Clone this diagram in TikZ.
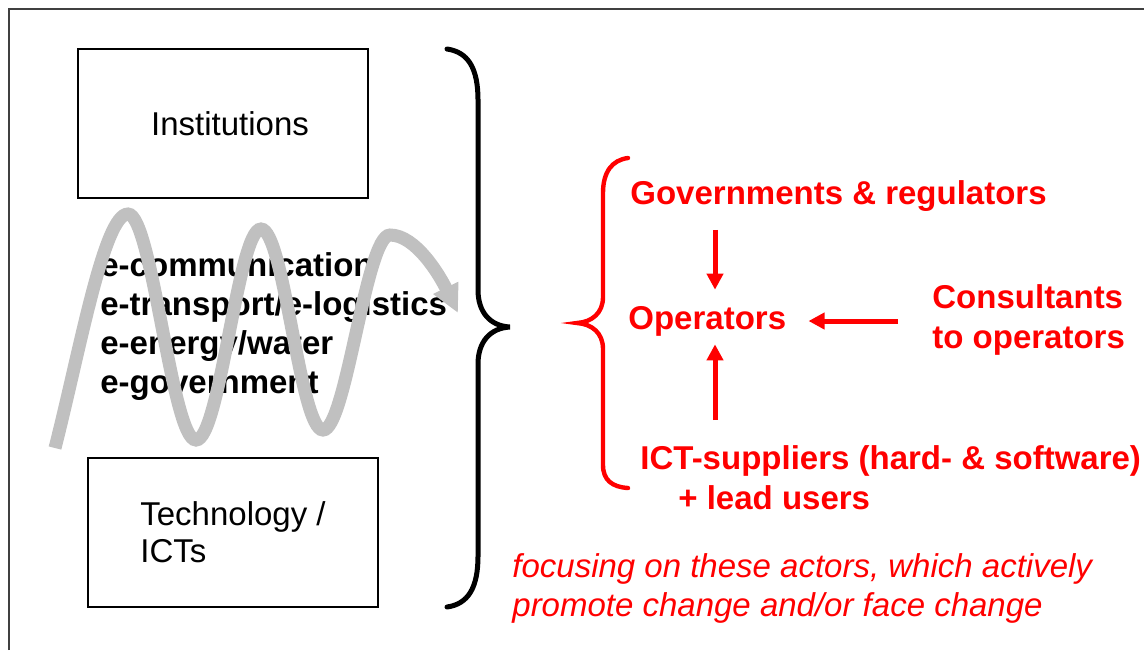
\documentclass[tikz,border=0pt]{standalone}
\usepackage{fontspec}
\setmainfont{Liberation Sans}
\usetikzlibrary{arrows.meta}

\definecolor{wavegray}{HTML}{C0C0C0}

\begin{document}
\begin{tikzpicture}[x=0.5pt, y=-0.5pt,
    blockbox/.style={draw, line width=0.7pt, minimum width=145pt, minimum height=74.5pt, font=\fontsize{16.5}{18.5}\selectfont},
    actor/.style={text=red, font=\bfseries\fontsize{16.5}{20}\selectfont, inner sep=0pt, align=left},
    redarrow/.style={draw=red, line width=2.5pt, -{Triangle[width=8pt, length=8pt]}},
    wave/.style={draw=wavegray, line width=6.5pt, -{Triangle[width=13pt, length=14pt]}},
    brace/.style={line width=2.5pt, line cap=round}]
    \useasboundingbox (0,0) rectangle (1144,650);

    % Outer frame
    \draw[line width=0.8pt, black!75] (9,650) -- (9,9) -- (1144,9);

    % Institutions and technology
    \node[blockbox] (inst) at (223,123.5) {\hspace*{7pt}Institutions};
    \node[blockbox, align=left] (tech) at (233,532.5) {Technology /\\ICTs};

    % Sectors
    \node[anchor=west, inner sep=0pt, align=left, font=\bfseries\fontsize{16.5}{19.5}\selectfont] (sectors) at (100,327)
        {e-communication\\e-transport/e-logistics\\e-energy/water\\e-government};

    % Co-evolution wave
    \draw[wave] (55,448) .. controls (80,350) and (104,214) .. (128,214)
        .. controls (152,214) and (172,440) .. (196,440)
        .. controls (220,440) and (238,229) .. (261,229)
        .. controls (284,229) and (300,430) .. (323,430)
        .. controls (346,430) and (366,235) .. (390,235)
        .. controls (416,235) and (440,276) .. (458,313);

    % Big brace
    \draw[brace] (447,49) .. controls (468,52) and (478,68) .. (478,100) -- (478,290)
        .. controls (478,312) and (490,326) .. (510,327)
        .. controls (490,328) and (478,342) .. (478,364) -- (478,556)
        .. controls (478,588) and (468,604) .. (447,607);

    % Actors
    \draw[brace, red, line width=2.2pt] (628,158) .. controls (612,160) and (603,172) .. (603,193) -- (603,297)
        .. controls (603,313) and (592,322) .. (577,323)
        .. controls (592,324) and (603,333) .. (603,349) -- (603,465)
        .. controls (603,480) and (612,487) .. (628,488);

    \node[actor, anchor=west] (gov) at (630,196) {Governments \& regulators};
    \node[actor, anchor=west] (oper) at (628,321) {Operators};
    \node[actor, anchor=west] (cons) at (932,320) {Consultants\\to operators};
    \node[actor, anchor=north west] (sup) at (640,445) {ICT-suppliers (hard- \& software)\\\hspace*{19pt}+ lead users};

    \coordinate (col) at (715,0);
    \draw[redarrow, shorten <=9pt, shorten >=8pt] (col |- gov.south) -- (col |- oper.north);
    \draw[redarrow, shorten <=12.5pt, shorten >=4pt] (col |- sup.north) -- (col |- oper.south);
    \draw[redarrow, shorten <=17pt, shorten >=11pt] (cons.west |- oper.east) -- (oper.east);

    % Note
    \node[anchor=west, inner sep=0pt, align=left, text=red, font=\itshape\fontsize{16.5}{19.5}\selectfont] (focus) at (512,588)
        {focusing on these actors, which actively\\promote change and/or face change};
\end{tikzpicture}
\end{document}
